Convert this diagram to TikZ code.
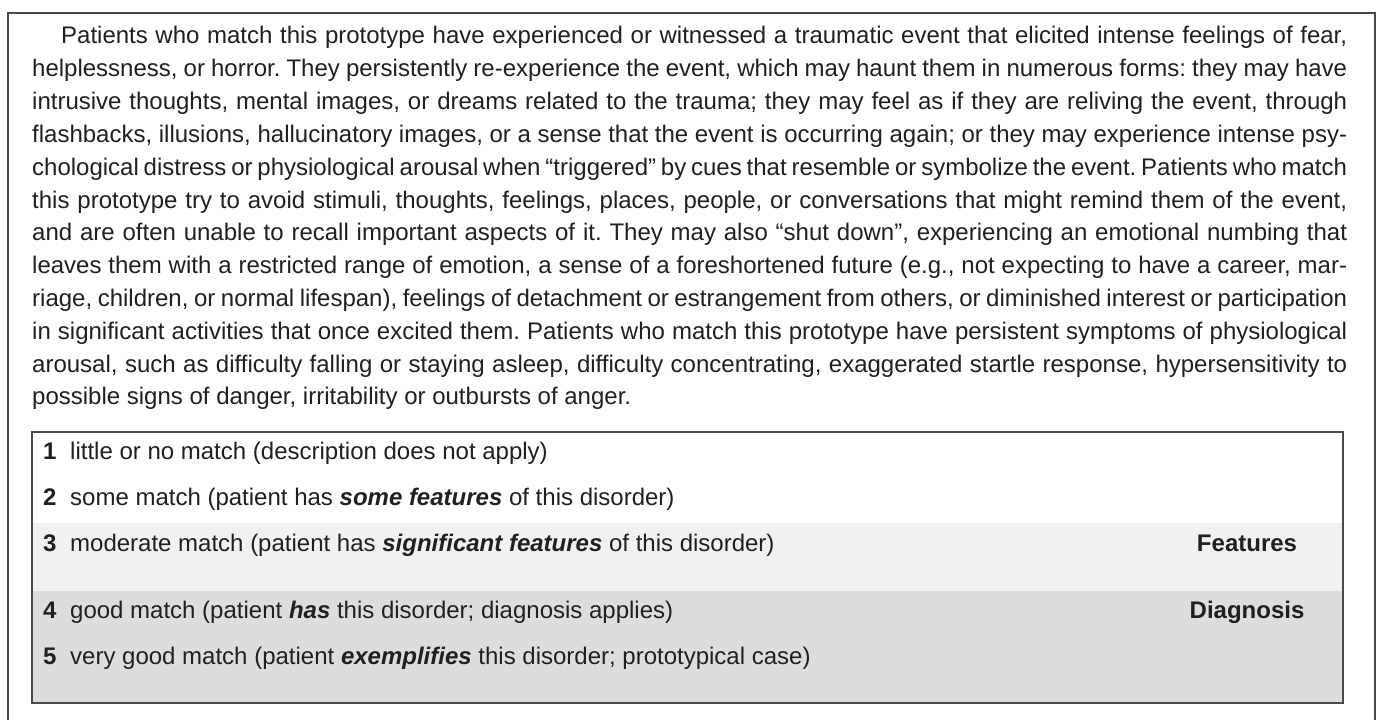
\documentclass[tikz,border=0pt]{standalone}
\usepackage{fontspec}
\setmainfont{Liberation Sans}
\frenchspacing
\definecolor{txt}{HTML}{231F20}
\definecolor{framec}{HTML}{4A4A4A}
\definecolor{bandA}{HTML}{F0F1F3}
\definecolor{bandB}{HTML}{DCDDDF}
\newcommand\jl[1]{\makebox[1315bp][s]{#1}}
\newcommand\bi[1]{\textbf{\textit{#1}}}
\begin{document}
\begin{tikzpicture}[x=1bp,y=-1bp,
  every node/.style={inner sep=0pt, text=txt, font=\fontsize{24bp}{28bp}\selectfont\frenchspacing},
  ln/.style={anchor=base west},
  lbl/.style={anchor=base, font=\fontsize{24bp}{28bp}\selectfont\bfseries},
  num/.style={anchor=base west, font=\fontsize{24bp}{28bp}\selectfont\bfseries},
  boxline/.style={draw=framec, line width=1.6bp}]
\useasboundingbox (0,0) rectangle (1379,719);
\fill[white] (0,0) rectangle (1379,719);
% outer frame (open at bottom)
\draw[boxline] (8,720) -- (8,13) -- (1375,13) -- (1375,720);
% paragraph
\node[ln] (l1) at (61,44) {\makebox[1286bp][s]{Patients who match this prototype have experienced or witnessed a traumatic event that elicited intense feelings of fear,}};
\node[ln] (l2) at (32,76.8) {\jl{helplessness, or horror. They persistently re-experience the event, which may haunt them in numerous forms: they may have}};
\node[ln] (l3) at (32,109.6) {\jl{intrusive thoughts, mental images, or dreams related to the trauma; they may feel as if they are reliving the event, through}};
\node[ln] (l4) at (32,142.4) {\jl{flashbacks, illusions, hallucinatory images, or a sense that the event is occurring again; or they may experience intense psy-}};
\node[ln] (l5) at (32,175.2) {\jl{chological distress or physiological arousal when “triggered” by cues that resemble or symbolize the event. Patients who match}};
\node[ln] (l6) at (32,208) {\jl{this prototype try to avoid stimuli, thoughts, feelings, places, people, or conversations that might remind them of the event,}};
\node[ln] (l7) at (32,240.8) {\jl{and are often unable to recall important aspects of it. They may also “shut down”, experiencing an emotional numbing that}};
\node[ln] (l8) at (32,273.6) {\jl{leaves them with a restricted range of emotion, a sense of a foreshortened future (e.g., not expecting to have a career, mar-}};
\node[ln] (l9) at (32,306.4) {\jl{riage, children, or normal lifespan), feelings of detachment or estrangement from others, or diminished interest or participation}};
\node[ln] (l10) at (32,339.2) {\jl{in significant activities that once excited them. Patients who match this prototype have persistent symptoms of physiological}};
\node[ln] (l11) at (32,372) {\jl{arousal, such as difficulty falling or staying asleep, difficulty concentrating, exaggerated startle response, hypersensitivity to}};
\node[ln] (l12) at (32,404.8) {possible signs of danger, irritability or outbursts of anger.};
% rating table
\fill[white] (32,432) rectangle (1343,523);
\fill[bandA] (32,523) rectangle (1343,591);
\fill[bandB] (32,591) rectangle (1343,703);
\draw[boxline] (32,432) rectangle (1343,703);
\node[num] (n1) at (43,459) {1};
\node[ln] (t1) at (70,459) {little or no match (description does not apply)};
\node[num] (n2) at (43,505) {2};
\node[ln] (t2) at (70,505) {some match (patient has \bi{some features} of this disorder)};
\node[num] (n3) at (43,551) {3};
\node[ln] (t3) at (70,551) {moderate match (patient has \bi{significant features} of this disorder)};
\node[num] (n4) at (43,618) {4};
\node[ln] (t4) at (70,618) {good match (patient \bi{has} this disorder; diagnosis applies)};
\node[num] (n5) at (43,664) {5};
\node[ln] (t5) at (70,664) {very good match (patient \bi{exemplifies} this disorder; prototypical case)};
\node[lbl] (feat) at (1247,551) {Features};
\node[lbl] (diag) at (1247,618) {Diagnosis};
\end{tikzpicture}
\end{document}
